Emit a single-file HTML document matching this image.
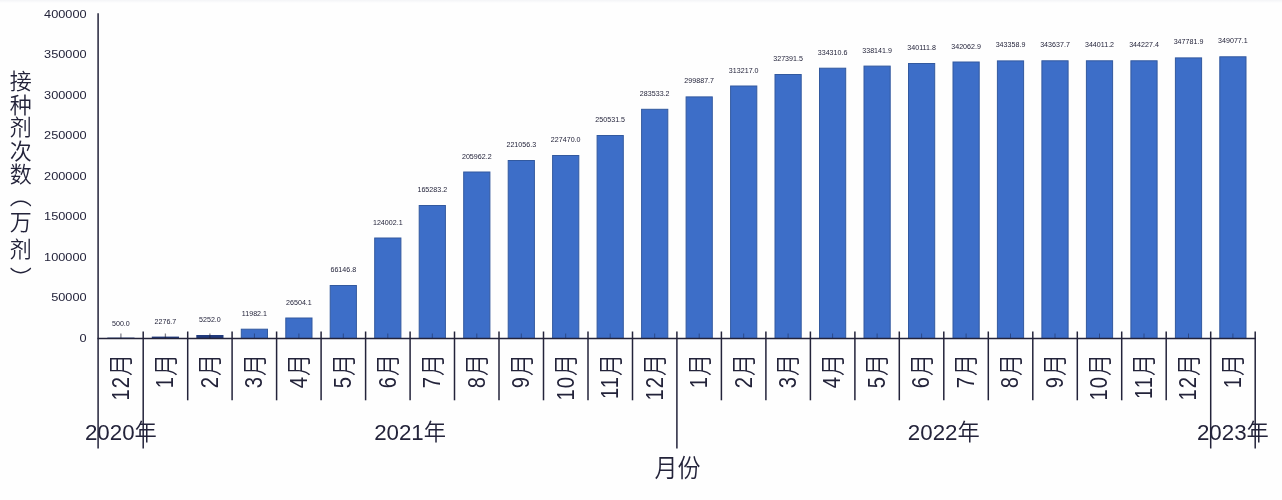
<!DOCTYPE html>
<html lang="zh-CN">
<head>
<meta charset="utf-8">
<title>接种剂次数</title>
<style>
html,body{margin:0;padding:0;background:#fefefe;overflow:hidden;}
body{width:1282px;height:500px;overflow:hidden;position:relative;font-family:"Liberation Sans","Noto Sans CJK SC",sans-serif;}
svg{position:absolute;left:0;top:0;display:block;filter:blur(0.45px);}
svg text{font-family:"Liberation Sans","Noto Sans CJK SC",sans-serif;fill:#23233a;font-weight:350;}
.ytitle{filter:blur(0.45px);font-weight:350;position:absolute;left:5.8px;top:0;width:24px;height:300px;color:#23233a;font-size:22px;line-height:24px;}
.ytitle span{position:absolute;left:0;width:24px;height:24px;writing-mode:vertical-rl;white-space:nowrap;}
</style>
</head>
<body>
<svg width="1282" height="500" viewBox="0 0 1282 500">
<defs><linearGradient id="edgeT" x1="0" y1="0" x2="0" y2="1"><stop offset="0" stop-color="#f3f4f7"/><stop offset="1" stop-color="#fefefe"/></linearGradient></defs>
<rect x="0" y="0" width="1282" height="500" fill="#fefefe"/>
<rect x="0" y="0" width="1282" height="3" fill="url(#edgeT)"/>
<g fill="#3d6ec8" stroke="#32599f" stroke-width="1">
<rect x="107.3" y="337.6" width="27.2" height="0.9" fill="#213a7c" stroke="none"/>
<rect x="151.8" y="336.6" width="27.2" height="1.9" fill="#213a7c" stroke="none"/>
<rect x="196.3" y="335.0" width="27.2" height="3.5" fill="#213a7c" stroke="none"/>
<rect x="241.3" y="329.2" width="26.2" height="9.3"/>
<rect x="285.8" y="318.0" width="26.2" height="20.5"/>
<rect x="330.2" y="285.5" width="26.2" height="53.0"/>
<rect x="374.7" y="238.0" width="26.2" height="100.5"/>
<rect x="419.2" y="205.5" width="26.2" height="133.0"/>
<rect x="463.7" y="172.0" width="26.2" height="166.5"/>
<rect x="508.2" y="160.5" width="26.2" height="178.0"/>
<rect x="552.6" y="155.5" width="26.2" height="183.0"/>
<rect x="597.1" y="135.5" width="26.2" height="203.0"/>
<rect x="641.6" y="109.3" width="26.2" height="229.2"/>
<rect x="686.1" y="96.9" width="26.2" height="241.6"/>
<rect x="730.6" y="86.0" width="26.2" height="252.5"/>
<rect x="775.0" y="74.5" width="26.2" height="264.0"/>
<rect x="819.5" y="68.2" width="26.2" height="270.3"/>
<rect x="864.0" y="66.1" width="26.2" height="272.4"/>
<rect x="908.5" y="63.5" width="26.2" height="275.0"/>
<rect x="953.0" y="62.0" width="26.2" height="276.5"/>
<rect x="997.4" y="60.9" width="26.2" height="277.6"/>
<rect x="1041.9" y="60.8" width="26.2" height="277.7"/>
<rect x="1086.4" y="60.8" width="26.2" height="277.7"/>
<rect x="1130.9" y="60.8" width="26.2" height="277.7"/>
<rect x="1175.4" y="57.9" width="26.2" height="280.6"/>
<rect x="1219.8" y="56.8" width="26.2" height="281.7"/>
</g>
<g stroke="#23233a" stroke-width="1.5" fill="none">
<line x1="98.1" y1="13.2" x2="98.1" y2="448.5"/>
<line x1="97.5" y1="338.5" x2="1255.8" y2="338.5"/>
<line x1="143.2" y1="331.5" x2="143.2" y2="448.5"/>
<line x1="187.7" y1="331.5" x2="187.7" y2="400.3"/>
<line x1="232.1" y1="331.5" x2="232.1" y2="400.3"/>
<line x1="276.6" y1="331.5" x2="276.6" y2="400.3"/>
<line x1="321.1" y1="331.5" x2="321.1" y2="400.3"/>
<line x1="365.6" y1="331.5" x2="365.6" y2="400.3"/>
<line x1="410.1" y1="331.5" x2="410.1" y2="400.3"/>
<line x1="454.5" y1="331.5" x2="454.5" y2="400.3"/>
<line x1="499.0" y1="331.5" x2="499.0" y2="400.3"/>
<line x1="543.5" y1="331.5" x2="543.5" y2="400.3"/>
<line x1="588.0" y1="331.5" x2="588.0" y2="400.3"/>
<line x1="632.5" y1="331.5" x2="632.5" y2="400.3"/>
<line x1="676.9" y1="331.5" x2="676.9" y2="448.5"/>
<line x1="721.4" y1="331.5" x2="721.4" y2="400.3"/>
<line x1="765.9" y1="331.5" x2="765.9" y2="400.3"/>
<line x1="810.4" y1="331.5" x2="810.4" y2="400.3"/>
<line x1="854.9" y1="331.5" x2="854.9" y2="400.3"/>
<line x1="899.3" y1="331.5" x2="899.3" y2="400.3"/>
<line x1="943.8" y1="331.5" x2="943.8" y2="400.3"/>
<line x1="988.3" y1="331.5" x2="988.3" y2="400.3"/>
<line x1="1032.8" y1="331.5" x2="1032.8" y2="400.3"/>
<line x1="1077.3" y1="331.5" x2="1077.3" y2="400.3"/>
<line x1="1121.7" y1="331.5" x2="1121.7" y2="400.3"/>
<line x1="1166.2" y1="331.5" x2="1166.2" y2="400.3"/>
<line x1="1210.7" y1="331.5" x2="1210.7" y2="448.5"/>
<line x1="1255.2" y1="331.5" x2="1255.2" y2="448.5"/>
</g>
<g stroke="#1d2a55" stroke-width="1" opacity="0.55">
<line x1="120.9" y1="333.5" x2="120.9" y2="338.5" stroke="#1c1c2e" stroke-width="1.3" opacity="1"/>
<line x1="165.4" y1="333.5" x2="165.4" y2="338.5" stroke="#1c1c2e" stroke-width="1.3" opacity="1"/>
<line x1="209.9" y1="333.5" x2="209.9" y2="338.5" stroke="#1c1c2e" stroke-width="1.3" opacity="1"/>
<line x1="254.4" y1="333.5" x2="254.4" y2="338.5"/>
<line x1="298.9" y1="333.5" x2="298.9" y2="338.5"/>
<line x1="343.3" y1="333.5" x2="343.3" y2="338.5"/>
<line x1="387.8" y1="333.5" x2="387.8" y2="338.5"/>
<line x1="432.3" y1="333.5" x2="432.3" y2="338.5"/>
<line x1="476.8" y1="333.5" x2="476.8" y2="338.5"/>
<line x1="521.3" y1="333.5" x2="521.3" y2="338.5"/>
<line x1="565.7" y1="333.5" x2="565.7" y2="338.5"/>
<line x1="610.2" y1="333.5" x2="610.2" y2="338.5"/>
<line x1="654.7" y1="333.5" x2="654.7" y2="338.5"/>
<line x1="699.2" y1="333.5" x2="699.2" y2="338.5"/>
<line x1="743.7" y1="333.5" x2="743.7" y2="338.5"/>
<line x1="788.1" y1="333.5" x2="788.1" y2="338.5"/>
<line x1="832.6" y1="333.5" x2="832.6" y2="338.5"/>
<line x1="877.1" y1="333.5" x2="877.1" y2="338.5"/>
<line x1="921.6" y1="333.5" x2="921.6" y2="338.5"/>
<line x1="966.1" y1="333.5" x2="966.1" y2="338.5"/>
<line x1="1010.5" y1="333.5" x2="1010.5" y2="338.5"/>
<line x1="1055.0" y1="333.5" x2="1055.0" y2="338.5"/>
<line x1="1099.5" y1="333.5" x2="1099.5" y2="338.5"/>
<line x1="1144.0" y1="333.5" x2="1144.0" y2="338.5"/>
<line x1="1188.5" y1="333.5" x2="1188.5" y2="338.5"/>
<line x1="1232.9" y1="333.5" x2="1232.9" y2="338.5"/>
</g>
<g font-size="10" text-anchor="end">
<text transform="translate(86.6,338.5) scale(1.277,1)" x="0" y="3.4">0</text>
<text transform="translate(86.6,298.0) scale(1.277,1)" x="0" y="3.4">50000</text>
<text transform="translate(86.6,257.5) scale(1.277,1)" x="0" y="3.4">100000</text>
<text transform="translate(86.6,217.0) scale(1.277,1)" x="0" y="3.4">150000</text>
<text transform="translate(86.6,176.5) scale(1.277,1)" x="0" y="3.4">200000</text>
<text transform="translate(86.6,136.0) scale(1.277,1)" x="0" y="3.4">250000</text>
<text transform="translate(86.6,95.5) scale(1.277,1)" x="0" y="3.4">300000</text>
<text transform="translate(86.6,55.0) scale(1.277,1)" x="0" y="3.4">350000</text>
<text transform="translate(86.6,14.5) scale(1.277,1)" x="0" y="3.4">400000</text>
</g>
<g font-size="6.6" text-anchor="middle">
<text transform="translate(120.9,326.1) scale(1.08,1)" x="0" y="0">500.0</text>
<text transform="translate(165.4,323.6) scale(1.08,1)" x="0" y="0">2276.7</text>
<text transform="translate(209.9,322.0) scale(1.08,1)" x="0" y="0">5252.0</text>
<text transform="translate(254.4,315.7) scale(1.08,1)" x="0" y="0">11982.1</text>
<text transform="translate(298.9,304.5) scale(1.08,1)" x="0" y="0">26504.1</text>
<text transform="translate(343.3,272.0) scale(1.08,1)" x="0" y="0">66146.8</text>
<text transform="translate(387.8,224.5) scale(1.08,1)" x="0" y="0">124002.1</text>
<text transform="translate(432.3,192.0) scale(1.08,1)" x="0" y="0">165283.2</text>
<text transform="translate(476.8,158.5) scale(1.08,1)" x="0" y="0">205962.2</text>
<text transform="translate(521.3,147.0) scale(1.08,1)" x="0" y="0">221056.3</text>
<text transform="translate(565.7,142.0) scale(1.08,1)" x="0" y="0">227470.0</text>
<text transform="translate(610.2,122.0) scale(1.08,1)" x="0" y="0">250531.5</text>
<text transform="translate(654.7,95.8) scale(1.08,1)" x="0" y="0">283533.2</text>
<text transform="translate(699.2,83.4) scale(1.08,1)" x="0" y="0">299887.7</text>
<text transform="translate(743.7,72.5) scale(1.08,1)" x="0" y="0">313217.0</text>
<text transform="translate(788.1,61.0) scale(1.08,1)" x="0" y="0">327391.5</text>
<text transform="translate(832.6,54.7) scale(1.08,1)" x="0" y="0">334310.6</text>
<text transform="translate(877.1,52.6) scale(1.08,1)" x="0" y="0">338141.9</text>
<text transform="translate(921.6,50.0) scale(1.08,1)" x="0" y="0">340111.8</text>
<text transform="translate(966.1,48.5) scale(1.08,1)" x="0" y="0">342062.9</text>
<text transform="translate(1010.5,47.4) scale(1.08,1)" x="0" y="0">343358.9</text>
<text transform="translate(1055.0,47.3) scale(1.08,1)" x="0" y="0">343637.7</text>
<text transform="translate(1099.5,47.3) scale(1.08,1)" x="0" y="0">344011.2</text>
<text transform="translate(1144.0,47.3) scale(1.08,1)" x="0" y="0">344227.4</text>
<text transform="translate(1188.5,44.4) scale(1.08,1)" x="0" y="0">347781.9</text>
<text transform="translate(1232.9,43.3) scale(1.08,1)" x="0" y="0">349077.1</text>
</g>
<g font-size="22" text-anchor="end">
<text transform="translate(120.9,354.1) rotate(-90) scale(1,1.14)" x="0" y="8.2"><tspan font-size="20.2" dy="-1.3" letter-spacing="1">12</tspan><tspan dy="1.3">月</tspan></text>
<text transform="translate(165.4,354.1) rotate(-90) scale(1,1.14)" x="0" y="8.2"><tspan font-size="20.2" dy="-1.3" letter-spacing="1">1</tspan><tspan dy="1.3">月</tspan></text>
<text transform="translate(209.9,354.1) rotate(-90) scale(1,1.14)" x="0" y="8.2"><tspan font-size="20.2" dy="-1.3" letter-spacing="1">2</tspan><tspan dy="1.3">月</tspan></text>
<text transform="translate(254.4,354.1) rotate(-90) scale(1,1.14)" x="0" y="8.2"><tspan font-size="20.2" dy="-1.3" letter-spacing="1">3</tspan><tspan dy="1.3">月</tspan></text>
<text transform="translate(298.9,354.1) rotate(-90) scale(1,1.14)" x="0" y="8.2"><tspan font-size="20.2" dy="-1.3" letter-spacing="1">4</tspan><tspan dy="1.3">月</tspan></text>
<text transform="translate(343.3,354.1) rotate(-90) scale(1,1.14)" x="0" y="8.2"><tspan font-size="20.2" dy="-1.3" letter-spacing="1">5</tspan><tspan dy="1.3">月</tspan></text>
<text transform="translate(387.8,354.1) rotate(-90) scale(1,1.14)" x="0" y="8.2"><tspan font-size="20.2" dy="-1.3" letter-spacing="1">6</tspan><tspan dy="1.3">月</tspan></text>
<text transform="translate(432.3,354.1) rotate(-90) scale(1,1.14)" x="0" y="8.2"><tspan font-size="20.2" dy="-1.3" letter-spacing="1">7</tspan><tspan dy="1.3">月</tspan></text>
<text transform="translate(476.8,354.1) rotate(-90) scale(1,1.14)" x="0" y="8.2"><tspan font-size="20.2" dy="-1.3" letter-spacing="1">8</tspan><tspan dy="1.3">月</tspan></text>
<text transform="translate(521.3,354.1) rotate(-90) scale(1,1.14)" x="0" y="8.2"><tspan font-size="20.2" dy="-1.3" letter-spacing="1">9</tspan><tspan dy="1.3">月</tspan></text>
<text transform="translate(565.7,354.1) rotate(-90) scale(1,1.14)" x="0" y="8.2"><tspan font-size="20.2" dy="-1.3" letter-spacing="1">10</tspan><tspan dy="1.3">月</tspan></text>
<text transform="translate(610.2,354.1) rotate(-90) scale(1,1.14)" x="0" y="8.2"><tspan font-size="20.2" dy="-1.3" letter-spacing="1">11</tspan><tspan dy="1.3">月</tspan></text>
<text transform="translate(654.7,354.1) rotate(-90) scale(1,1.14)" x="0" y="8.2"><tspan font-size="20.2" dy="-1.3" letter-spacing="1">12</tspan><tspan dy="1.3">月</tspan></text>
<text transform="translate(699.2,354.1) rotate(-90) scale(1,1.14)" x="0" y="8.2"><tspan font-size="20.2" dy="-1.3" letter-spacing="1">1</tspan><tspan dy="1.3">月</tspan></text>
<text transform="translate(743.7,354.1) rotate(-90) scale(1,1.14)" x="0" y="8.2"><tspan font-size="20.2" dy="-1.3" letter-spacing="1">2</tspan><tspan dy="1.3">月</tspan></text>
<text transform="translate(788.1,354.1) rotate(-90) scale(1,1.14)" x="0" y="8.2"><tspan font-size="20.2" dy="-1.3" letter-spacing="1">3</tspan><tspan dy="1.3">月</tspan></text>
<text transform="translate(832.6,354.1) rotate(-90) scale(1,1.14)" x="0" y="8.2"><tspan font-size="20.2" dy="-1.3" letter-spacing="1">4</tspan><tspan dy="1.3">月</tspan></text>
<text transform="translate(877.1,354.1) rotate(-90) scale(1,1.14)" x="0" y="8.2"><tspan font-size="20.2" dy="-1.3" letter-spacing="1">5</tspan><tspan dy="1.3">月</tspan></text>
<text transform="translate(921.6,354.1) rotate(-90) scale(1,1.14)" x="0" y="8.2"><tspan font-size="20.2" dy="-1.3" letter-spacing="1">6</tspan><tspan dy="1.3">月</tspan></text>
<text transform="translate(966.1,354.1) rotate(-90) scale(1,1.14)" x="0" y="8.2"><tspan font-size="20.2" dy="-1.3" letter-spacing="1">7</tspan><tspan dy="1.3">月</tspan></text>
<text transform="translate(1010.5,354.1) rotate(-90) scale(1,1.14)" x="0" y="8.2"><tspan font-size="20.2" dy="-1.3" letter-spacing="1">8</tspan><tspan dy="1.3">月</tspan></text>
<text transform="translate(1055.0,354.1) rotate(-90) scale(1,1.14)" x="0" y="8.2"><tspan font-size="20.2" dy="-1.3" letter-spacing="1">9</tspan><tspan dy="1.3">月</tspan></text>
<text transform="translate(1099.5,354.1) rotate(-90) scale(1,1.14)" x="0" y="8.2"><tspan font-size="20.2" dy="-1.3" letter-spacing="1">10</tspan><tspan dy="1.3">月</tspan></text>
<text transform="translate(1144.0,354.1) rotate(-90) scale(1,1.14)" x="0" y="8.2"><tspan font-size="20.2" dy="-1.3" letter-spacing="1">11</tspan><tspan dy="1.3">月</tspan></text>
<text transform="translate(1188.5,354.1) rotate(-90) scale(1,1.14)" x="0" y="8.2"><tspan font-size="20.2" dy="-1.3" letter-spacing="1">12</tspan><tspan dy="1.3">月</tspan></text>
<text transform="translate(1232.9,354.1) rotate(-90) scale(1,1.14)" x="0" y="8.2"><tspan font-size="20.2" dy="-1.3" letter-spacing="1">1</tspan><tspan dy="1.3">月</tspan></text>
</g>
<g font-size="22.3" text-anchor="middle">
<text transform="translate(120.9,439.6) scale(1,1)" x="0" y="0">2020年</text>
<text transform="translate(410.1,439.6) scale(1,1)" x="0" y="0">2021年</text>
<text transform="translate(943.8,439.6) scale(1,1)" x="0" y="0">2022年</text>
<text transform="translate(1232.9,439.6) scale(1,1)" x="0" y="0">2023年</text>
</g>
<text transform="translate(677.6,477) scale(1,1.08)" x="0" y="0" font-size="23" text-anchor="middle">月份</text>
</svg>
<div class="ytitle"><span style="top:70.0px">接</span><span style="top:93.6px">种</span><span style="top:116.2px">剂</span><span style="top:140.0px">次</span><span style="top:163.1px">数</span><span style="top:184.5px">（</span><span style="top:211.1px">万</span><span style="top:237.8px">剂</span><span style="top:266.5px">）</span></div>
</body>
</html>
